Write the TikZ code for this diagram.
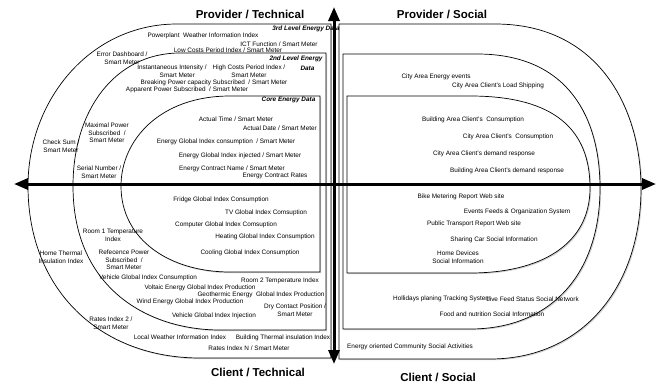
\documentclass[tikz,border=0pt]{standalone}
\usepackage{fontspec}
\setmainfont{Liberation Sans}
\usetikzlibrary{arrows.meta,shadows}
\begin{document}
\begin{tikzpicture}[x=1pt,y=-1pt,
  zone/.style={draw=black,line width=0.7pt,fill=white,
    drop shadow={opacity=0.35,shadow xshift=1.2pt,shadow yshift=-1.2pt}},
  lab/.style={inner sep=0pt,align=center,font=\fontsize{6.4}{7.6}\selectfont},
  lvl/.style={inner sep=0pt,align=center,font=\fontsize{6.4}{7.6}\selectfont\bfseries\itshape},
  ttl/.style={inner sep=0pt,font=\fontsize{11.5}{13}\selectfont\bfseries},
  axis/.style={line width=3pt,-{Triangle[length=14pt,width=11pt]}}]
\useasboundingbox (0,0) rectangle (658,383);
% left zones
\draw[zone] (331,24) -- (177,24) .. controls (90,24) and (28,100) .. (28,186) .. controls (28,290) and (100,358) .. (200,358) -- (331,358) -- cycle;
\draw[zone] (326,53) -- (180,53) .. controls (115,53) and (73,110) .. (73,186) .. controls (73,290) and (150,330) .. (220,330) -- (326,330) -- cycle;
\draw[zone] (320,96) -- (230,96) .. controls (160,96) and (121,140) .. (121,186) .. controls (121,240) and (170,272) .. (230,272) -- (320,272) -- cycle;
% right zones
\draw[zone] (339,24) -- (495,24) .. controls (600,24) and (641,110) .. (641,188) .. controls (641,290) and (580,359) .. (490,359) -- (339,359) -- cycle;
\draw[zone] (343,54) -- (477,54) .. controls (570,54) and (600,120) .. (600,188) .. controls (600,275) and (550,329) .. (470,329) -- (343,329) -- cycle;
\draw[zone] (347,96) -- (470,96) .. controls (555,96) and (590,130) .. (590,188) .. controls (590,245) and (540,273) .. (470,273) -- (347,273) -- cycle;
% titles
\node[ttl] (tpt) at (250,14) {Provider / Technical};
\node[ttl] (tps) at (442,14) {Provider / Social};
\node[ttl] (tct) at (258,372) {Client / Technical};
\node[ttl] (tcs) at (438,377) {Client / Social};
% level labels
\node[lvl] (lv3) at (306,29) {3rd Level Energy Data};
\node[lvl] (lv2) at (296,59) {2nd Level Energy};
\node[lvl] (lv2b) at (307.5,68) {Data};
\node[lvl] (lv1) at (288.5,100) {Core Energy Data};
% 3rd level
\node[lab] (a1) at (203,36) {Powerplant\ \ Weather Information Index};
\node[lab] (a2) at (279,44) {ICT Function / Smart Meter};
\node[lab] (a3) at (228,50) {Low Costs Period Index / Smart Meter};
\node[lab] (a4) at (122,58) {Error Dashboard /\\Smart Meter};
\node[lab] (a5) at (61,146.5) {Check Sum /\\Smart Meter};
\node[lab] (a6) at (61,257.5) {Home Thermal\\Insulation Index};
\node[lab] (a7) at (111,323) {Rates Index 2 /\\Smart Meter};
\node[lab] (a8) at (180,337) {Local Weather Information Index};
\node[lab] (a9) at (283,338) {Building Thermal insulation Index};
\node[lab] (a10) at (249,348) {Rates Index N / Smart Meter};
% 2nd level
\node[lab] (b1) at (172,71.5) {Instantaneous Intensity /\\\ \ \ \ \ \ Smart Meter};
\node[lab] (b2) at (249,71.5) {High Costs Period Index /\\Smart Meter};
\node[lab] (b3) at (214,83) {Breaking Power capacity Subscribed\ \ / Smart Meter};
\node[lab] (b4) at (187,90) {Apparent Power Subscribed\ \ / Smart Meter};
\node[lab] (b5) at (107,133) {Maximal Power\\Subscribed\ \ /\\Smart Meter};
\node[lab] (b6) at (99,172) {Serial Number /\\Smart Meter};
\node[lab] (b7) at (113,235.5) {Room 1 Temperature\\Index};
\node[lab] (b8) at (124,260) {Refecence Power\\Subscribed\ \ /\\Smart Meter};
\node[lab] (b9) at (148,278) {Vehicle Global Index Consumption};
\node[lab] (b10) at (280,281) {Room 2 Temperature Index};
\node[lab] (b11) at (200,288) {Voltaic Energy Global Index Production};
\node[lab] (b12) at (261,295) {Geothermic Energy\ \ Global Index Production};
\node[lab] (b13) at (190,302) {Wind Energy Global Index Production};
\node[lab] (b14) at (295,310.5) {Dry Contact Position /\\Smart Meter};
\node[lab] (b15) at (214,316) {Vehicle Global Index Injection};
% core
\node[lab] (c1) at (236,119) {Actual Time / Smart Meter};
\node[lab] (c2) at (280,128) {Actual Date / Smart Meter};
\node[lab] (c3) at (226,142) {Energy Global Index consumption\ \ / Smart Meter};
\node[lab] (c4) at (240,156) {Energy Global Index injected / Smart Meter};
\node[lab] (c5) at (232,169) {Energy Contract Name / Smart Meter};
\node[lab] (c6) at (275,176) {Energy Contract Rates};
\node[lab] (c7) at (221,200) {Fridge Global Index Consumption};
\node[lab] (c8) at (266,213) {TV Global Index Comsuption};
\node[lab] (c9) at (226,225) {Computer Global Index Comsuption};
\node[lab] (c10) at (265,237) {Heating Global Index Consumption};
\node[lab] (c11) at (250,253) {Cooling Global Index Consumption};
% right side
\node[lab] (d1) at (436,77) {City Area Energy events};
\node[lab] (d2) at (498,86) {City Area Client's Load Shipping};
\node[lab] (d3) at (473,120) {Building Area Client's\ \ Consumption};
\node[lab] (d4) at (508,137) {City Area Client's\ \ Consumption};
\node[lab] (d5) at (484,154) {City Area Client's demand response};
\node[lab] (d6) at (507,171) {Building Area Client's demand response};
\node[lab] (d7) at (461,197) {Bike Metering Report Web site};
\node[lab] (d8) at (517,212) {Events Feeds \& Organization System};
\node[lab] (d9) at (474,224) {Public Transport Report Web site};
\node[lab] (d10) at (494,240) {Sharing Car Social Information};
\node[lab] (d11) at (458,257.5) {Home Devices\\Social Information};
\node[lab,anchor=west] (d12) at (393,299) {Hollidays planing Tracking System};
\node[lab,anchor=east] (d13) at (579,299) {Live Feed Status Social Network};
\node[lab] (d14) at (492,314) {Food and nutrition Social Information};
\node[lab] (d15) at (410,347) {Energy oriented Community Social Activities};
% axes
\coordinate (hl) at (14,184);
\coordinate (hr) at (656,184);
\coordinate (vt) at (334,7);
\coordinate (vb) at (334,364);
\coordinate (o) at (334,184);
\draw[axis] (o) -- (hl);
\draw[axis] (o) -- (hr);
\draw[axis] (o) -- (vt);
\draw[axis] (o) -- (vb);
\end{tikzpicture}
\end{document}
